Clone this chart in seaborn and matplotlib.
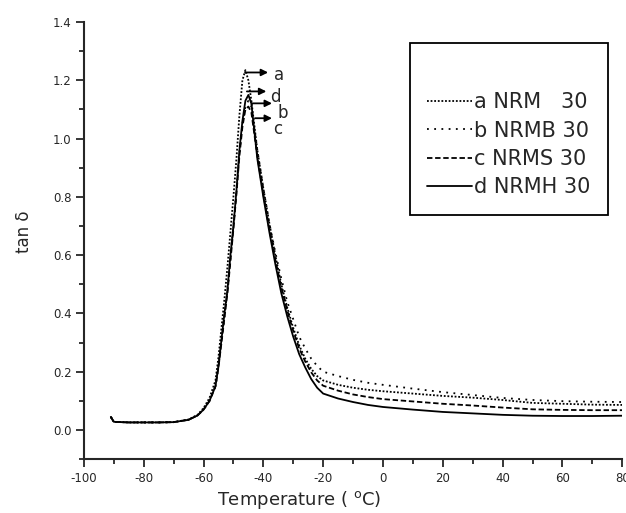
import matplotlib
matplotlib.use("Agg")
import matplotlib.pyplot as plt
import seaborn as sns
import pandas as pd
from matplotlib.ticker import MultipleLocator

temperature = [-91, -90, -85, -80, -75, -70, -65, -62, -60, -58,
               -56, -55, -54, -53, -52, -51, -50, -49, -48, -47,
               -46, -45, -44, -42, -40, -38, -36, -34, -32, -30,
               -28, -26, -24, -22, -20, -15, -10, -5, 0, 10,
               20, 30, 40, 50, 60, 70, 80]

tan_a = [0.045, 0.028, 0.026, 0.026, 0.026, 0.027, 0.036, 0.052, 0.075, 0.110,
         0.170, 0.250, 0.350, 0.450, 0.560, 0.680, 0.800, 0.930, 1.080, 1.200,
         1.235, 1.200, 1.130, 0.960, 0.830, 0.710, 0.600, 0.500, 0.420, 0.350,
         0.290, 0.245, 0.210, 0.185, 0.170, 0.155, 0.145, 0.138, 0.133, 0.125,
         0.117, 0.111, 0.103, 0.093, 0.090, 0.087, 0.086]
tan_b = [0.045, 0.028, 0.026, 0.026, 0.026, 0.027, 0.035, 0.050, 0.070, 0.100,
         0.150, 0.220, 0.300, 0.390, 0.480, 0.590, 0.700, 0.820, 0.950, 1.050,
         1.110, 1.130, 1.110, 0.960, 0.830, 0.710, 0.610, 0.520, 0.440, 0.380,
         0.320, 0.280, 0.245, 0.220, 0.200, 0.185, 0.172, 0.162, 0.155, 0.142,
         0.130, 0.120, 0.110, 0.103, 0.099, 0.097, 0.096]
tan_c = [0.045, 0.028, 0.026, 0.026, 0.026, 0.027, 0.035, 0.050, 0.070, 0.100,
         0.150, 0.215, 0.300, 0.385, 0.470, 0.580, 0.690, 0.810, 0.940, 1.040,
         1.100, 1.110, 1.090, 0.940, 0.810, 0.690, 0.585, 0.490, 0.410, 0.340,
         0.280, 0.235, 0.198, 0.170, 0.152, 0.135, 0.122, 0.113, 0.106, 0.098,
         0.090, 0.084, 0.077, 0.071, 0.069, 0.068, 0.068]
tan_d = [0.045, 0.028, 0.026, 0.026, 0.026, 0.027, 0.035, 0.050, 0.070, 0.100,
         0.150, 0.220, 0.310, 0.400, 0.480, 0.600, 0.700, 0.820, 0.960, 1.060,
         1.130, 1.150, 1.120, 0.930, 0.800, 0.680, 0.570, 0.470, 0.390, 0.320,
         0.260, 0.215, 0.175, 0.145, 0.125, 0.108, 0.096, 0.086, 0.079, 0.070,
         0.062, 0.057, 0.052, 0.049, 0.048, 0.048, 0.049]

series_labels = ["a NRM   30", "b NRMB 30", "c NRMS 30", "d NRMH 30"]
curve_letters = ["a", "d", "b", "c"]
arrow_levels = [1.227, 1.162, 1.121, 1.070]

sns.set_style("ticks")
plt.rcParams["font.family"] = ["DejaVu Sans"]
plt.rcParams["axes.unicode_minus"] = False

fig = plt.figure(figsize=(6.26, 5.13), dpi=100)
ax = fig.add_axes([0.134, 0.105, 0.860, 0.852])

styles = [(0, (1, 1)), (0, (1, 3)), (0, (3, 1.5)), "-"]
for yvals, lab, ls in zip([tan_a, tan_b, tan_c, tan_d], series_labels, styles):
    df = pd.DataFrame({"T": temperature, "tan": yvals})
    sns.lineplot(data=df, x="T", y="tan", ax=ax, color="black", lw=1.3,
                 linestyle=ls, label=lab, sort=False)

ax.set_xlim(-100, 80)
ax.set_ylim(-0.1, 1.4)
ax.xaxis.set_major_locator(MultipleLocator(20))
ax.xaxis.set_minor_locator(MultipleLocator(10))
ax.yaxis.set_minor_locator(MultipleLocator(0.1))
ax.set_yticks([0.0, 0.2, 0.4, 0.6, 0.8, 1.0, 1.2, 1.4])
ax.set_yticklabels(["0.0", "0.2", "0.4", "0.6", "0.8", "1.0", "1.2", "1.4"])
ax.tick_params(which="major", length=6, width=1.3, labelsize=8.5, pad=3, direction="out")
ax.tick_params(which="minor", length=3.5, width=1.3, direction="out")
for s in ["top", "right"]:
    ax.spines[s].set_visible(False)
for s in ["left", "bottom"]:
    ax.spines[s].set_linewidth(1.5)

ax.set_xlabel("Temperature ( $^{\\mathrm{o}}$C)", fontsize=13)
ax.xaxis.set_label_coords(0.40, -0.068)
ax.set_ylabel("tan δ", fontsize=12)
ax.yaxis.set_label_coords(-0.095, 0.52)

# arrows with letters
arrow_starts = [-46.1, -45.5, -43.8, -42.8]
arrow_ends = [-38.4, -39.0, -37.1, -37.1]
text_pos = [(-34.8, 1.217), (-36.1, 1.142), (-33.4, 1.087), (-35.1, 1.032)]
for lett, lev, x0, x1, tp in zip(curve_letters, arrow_levels, arrow_starts, arrow_ends, text_pos):
    ax.annotate("", xy=(x1, lev), xytext=(x0, lev),
                arrowprops=dict(arrowstyle="-|>", color="black", lw=1.3,
                                mutation_scale=10, shrinkA=0, shrinkB=0))
    ax.text(tp[0], tp[1], lett, fontsize=12, ha="center", va="center")

leg = ax.legend(loc="upper left", bbox_to_anchor=(0.606, 0.952), title=" ",
                title_fontsize=17.5, fontsize=15, frameon=True, fancybox=False,
                edgecolor="black", handlelength=2.15, handletextpad=0.1,
                labelspacing=0.4, borderpad=0.82, borderaxespad=0)
leg.get_frame().set_linewidth(1.3)
leg.get_frame().set_alpha(1)

fig.savefig("out.png", dpi=100)
